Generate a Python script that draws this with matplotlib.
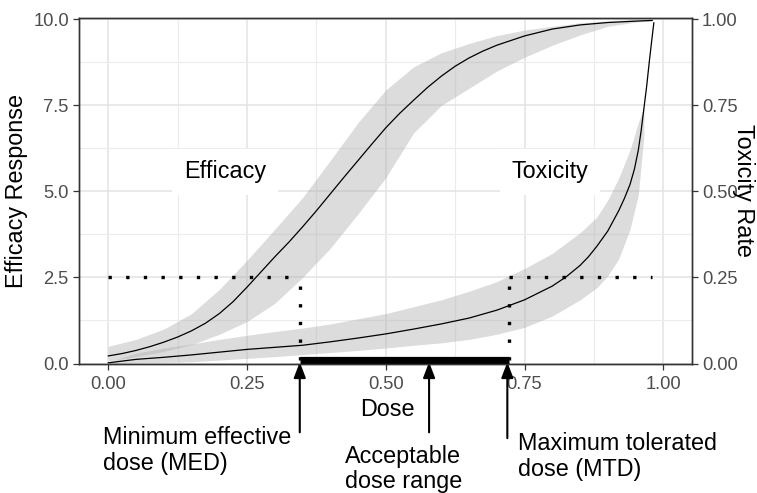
import numpy as np
import matplotlib
matplotlib.use("Agg")
import matplotlib.pyplot as plt

plt.rcParams['font.family'] = ['Liberation Sans', 'DejaVu Sans']

# efficacy curve (left axis, 0-10)
eff_dose = [0.0, 0.025, 0.05, 0.075, 0.1, 0.125, 0.15, 0.175, 0.2, 0.225,
            0.25, 0.275, 0.3, 0.325, 0.35, 0.375, 0.4, 0.425, 0.45, 0.475,
            0.5, 0.525, 0.55, 0.575, 0.6, 0.625, 0.65, 0.675, 0.7, 0.75,
            0.8, 0.85, 0.9, 0.95, 0.98]
eff_mean = [0.22, 0.29, 0.38, 0.49, 0.62, 0.77, 0.95, 1.17, 1.45, 1.8,
            2.22, 2.66, 3.1, 3.52, 3.97, 4.44, 4.93, 5.42, 5.9, 6.38,
            6.85, 7.27, 7.65, 8.02, 8.35, 8.64, 8.88, 9.08, 9.25, 9.52,
            9.72, 9.84, 9.91, 9.95, 9.97]

# efficacy band
eff_band_dose = [0.0, 0.05, 0.1, 0.15, 0.2, 0.25, 0.3, 0.35, 0.4, 0.45, 0.5,
                 0.55, 0.6, 0.65, 0.7, 0.75, 0.8, 0.85, 0.9, 0.95, 0.98]
eff_upper = [0.5, 0.7, 1.0, 1.45, 2.15, 3.0, 3.9, 4.82, 5.9, 7.0, 7.95,
             8.62, 9.03, 9.3, 9.53, 9.69, 9.8, 9.9, 9.96, 10.0, 10.0]
eff_lower = [0.08, 0.2, 0.35, 0.55, 0.85, 1.22, 1.75, 2.5, 3.35, 4.35, 5.4,
             6.7, 7.5, 8.0, 8.5, 8.9, 9.25, 9.55, 9.8, 9.92, 9.97]

# toxicity curve (left-axis units = rate x 10)
tox_dose = [0.0, 0.05, 0.1, 0.15, 0.2, 0.25, 0.3, 0.35, 0.4, 0.45, 0.5, 0.55,
            0.6, 0.65, 0.7, 0.75, 0.8, 0.825, 0.85, 0.865, 0.88, 0.9, 0.92,
            0.93, 0.94, 0.948, 0.955, 0.96, 0.965, 0.97, 0.975, 0.98, 0.983]
tox_mean = [0.02, 0.12, 0.18, 0.25, 0.33, 0.41, 0.47, 0.53, 0.63, 0.74, 0.86,
            1.0, 1.15, 1.32, 1.55, 1.85, 2.25, 2.52, 2.85, 3.1, 3.4, 3.85,
            4.45, 4.8, 5.2, 5.65, 6.2, 6.75, 7.4, 8.05, 8.8, 9.5, 9.9]

# toxicity band
tox_band_dose = [0.0, 0.05, 0.1, 0.15, 0.2, 0.25, 0.3, 0.35, 0.4, 0.45, 0.5,
                 0.55, 0.6, 0.65, 0.7, 0.75, 0.8, 0.85, 0.88, 0.9, 0.92, 0.94,
                 0.955, 0.965]
tox_upper = [0.05, 0.3, 0.45, 0.57, 0.7, 0.82, 0.93, 1.03, 1.15, 1.3, 1.45,
             1.65, 1.85, 2.1, 2.38, 2.76, 3.2, 3.8, 4.25, 4.75, 5.4, 6.2,
             7.0, 7.45]
tox_lower = [0.0, 0.02, 0.03, 0.05, 0.1, 0.15, 0.2, 0.26, 0.32, 0.38, 0.45,
             0.53, 0.6, 0.7, 0.85, 1.05, 1.38, 1.85, 2.2, 2.55, 3.05, 3.9,
             4.9, 6.6]

med_dose = 0.345
mtd_dose = 0.722
range_arrow = 0.578
eff_target = 2.5
tox_target = 2.5

x_ticks = [0.0, 0.25, 0.5, 0.75, 1.0]
x_labels = ['0.00', '0.25', '0.50', '0.75', '1.00']
y_ticks = [0.0, 2.5, 5.0, 7.5, 10.0]
y_labels = ['0.0', '2.5', '5.0', '7.5', '10.0']
y2_labels = ['0.00', '0.25', '0.50', '0.75', '1.00']

band_col = '#AEAEAE'
tick_col = '#4D4D4D'
edge_col = '#333333'
big = 16.8
small = 13.2

fig = plt.figure(figsize=(7.57, 4.93), dpi=100)
ax = fig.add_axes([79 / 757, 1 - 363.5 / 493, 612.7 / 757, 345.8 / 493])

ax.fill_between(eff_band_dose, eff_lower, eff_upper, color=band_col, alpha=0.43, lw=0, zorder=2)
ax.fill_between(tox_band_dose, tox_lower, tox_upper, color=band_col, alpha=0.43, lw=0, zorder=2)
ax.plot(eff_dose, eff_mean, color='black', lw=0.9, zorder=3)
ax.plot(tox_dose, tox_mean, color='black', lw=0.9, zorder=3)

dot = dict(color='black', lw=2.4, linestyle=(0, (1, 4.3)), zorder=4)
ax.plot([0, med_dose], [eff_target, eff_target], **dot)
ax.plot([med_dose, med_dose], [0.11, eff_target], **dot)
ax.plot([mtd_dose, 0.98], [tox_target, tox_target], **dot)
ax.plot([mtd_dose, mtd_dose], [0.11, tox_target], **dot)

ax.plot([med_dose, mtd_dose], [0.105, 0.105], color='black', lw=5.2,
        solid_capstyle='butt', zorder=5, clip_on=False)

box = dict(boxstyle='square,pad=0.5', fc='white', ec='none')
ax.text(0.21, 5.57, 'Efficacy', fontsize=big, ha='center', va='center', bbox=box, zorder=6)
ax.text(0.796, 5.57, 'Toxicity', fontsize=big, ha='center', va='center', bbox=box, zorder=6)

ax.set_xlim(-0.0528, 1.0512)
ax.set_ylim(0, 10.05)
ax.set_xticks(x_ticks)
ax.set_xticklabels(x_labels)
ax.set_yticks(y_ticks)
ax.set_yticklabels(y_labels)
ax.set_xticks([0.125, 0.375, 0.625, 0.875], minor=True)
ax.set_yticks([1.25, 3.75, 6.25, 8.75], minor=True)
ax.grid(which='major', color='#E3E3E3', lw=1.1, zorder=0)
ax.grid(which='minor', color='#ECECEC', lw=0.8, zorder=0)
ax.set_axisbelow(True)
ax.tick_params(which='minor', length=0)
ax.tick_params(axis='x', which='major', length=4.3, width=0.9, color=edge_col,
               labelsize=small, labelcolor=tick_col, pad=5)
ax.tick_params(axis='y', which='major', length=4.3, width=0.9, color=edge_col,
               labelsize=small, labelcolor=tick_col, pad=3)

ax2 = ax.twinx()
ax2.set_ylim(0, 1.005)
ax2.set_yticks([t / 10 for t in y_ticks])
ax2.set_yticklabels(y2_labels)
ax2.tick_params(axis='y', length=4.3, width=0.9, color=edge_col,
                labelsize=small, labelcolor=tick_col, pad=3)
for a in (ax, ax2):
    for s in a.spines.values():
        s.set_color(edge_col)
        s.set_linewidth(1.0)

fig.text(17 / 757, 1 - 191 / 493, 'Efficacy Response', fontsize=big, rotation=90,
         ha='center', va='center')
fig.text(744 / 757, 1 - 190 / 493, 'Toxicity Rate', fontsize=big, rotation=270,
         ha='center', va='center')
fig.text(387 / 757, 1 - 409 / 493, 'Dose', fontsize=big, ha='center', va='center')

# arrows and notes below the axis
head = dict(arrowstyle='-|>,head_length=0.47,head_width=0.18', lw=1.5,
            color='black', shrinkA=0, shrinkB=0, mutation_scale=20)
ax.annotate('', xy=(med_dose, 0.04), xytext=(med_dose, -2.0), arrowprops=head,
            annotation_clip=False)
ax.annotate('', xy=(range_arrow, 0.04), xytext=(range_arrow, -2.0), arrowprops=head,
            annotation_clip=False)
ax.annotate('', xy=(mtd_dose - 0.003, 0.04), xytext=(mtd_dose - 0.003, -2.17),
            arrowprops=head, annotation_clip=False)

ax.text(-0.0095, -1.82, 'Minimum effective\ndose (MED)', fontsize=big,
        ha='left', va='top', linespacing=1.15)
ax.text(0.4265, -2.36, 'Acceptable\ndose range', fontsize=big,
        ha='left', va='top', linespacing=1.15)
ax.text(0.738, -2.0, 'Maximum tolerated\ndose (MTD)', fontsize=big,
        ha='left', va='top', linespacing=1.15)

fig.savefig('out.png', dpi=100)
